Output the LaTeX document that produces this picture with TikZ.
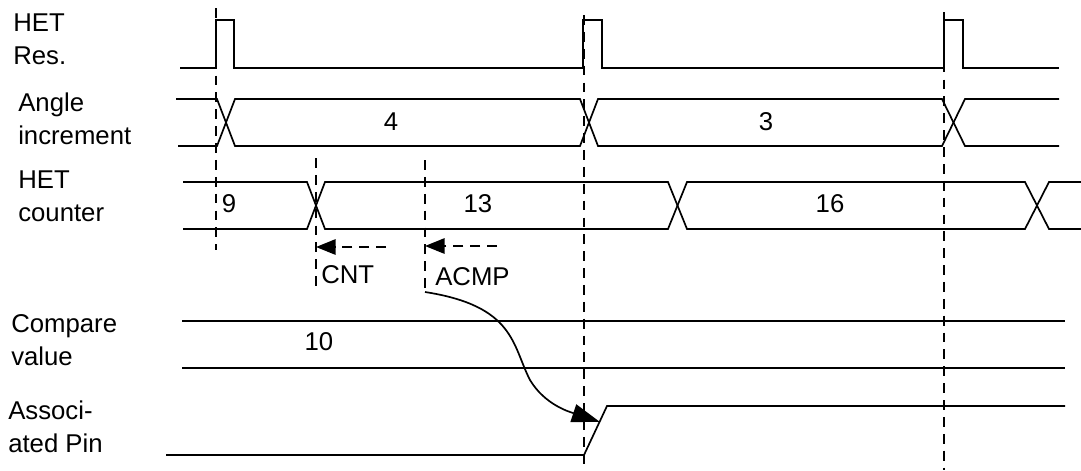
\documentclass[tikz,border=0pt]{standalone}
\usepackage{fontspec}
\setmainfont{Liberation Sans}
\usepackage{tikz}
\usetikzlibrary{arrows.meta, calc}
\tikzset{
  wave/.style  = {line width=1.2pt, black, line join=miter},
  guide/.style = {line width=1.2pt, black, dash pattern=on 7pt off 5pt},
  lbl/.style   = {anchor=base west, inner sep=0pt, align=left,
                  font=\fontsize{18.3}{22.8}\selectfont},
  val/.style   = {anchor=base, inner sep=0pt,
                  font=\fontsize{18.3}{22.8}\selectfont},
  arr/.style   = {-{Triangle[length=14pt, width=11pt]}, line width=1.2pt,
                  dash pattern=on 7pt off 5pt},
}

\begin{document}
\begin{tikzpicture}[x=0.025cm, y=-0.025cm]
    \useasboundingbox (0,0) rectangle (1081,470);

    \node[lbl] (resLbl) at (13,64)  {HET\\Res.};
    \node[lbl] (angLbl) at (18,144) {Angle\\increment};
    \node[lbl] (cntLbl) at (18,221) {HET\\counter};
    \node[lbl] (cmpLbl) at (11,365) {Compare\\value};
    \node[lbl] (pinLbl) at (8,452)  {Associ-\\ated Pin};

    \draw[wave] (180,68) -- (216,68) -- (216,20) -- (234,20) -- (234,68)
        -- (583,68) -- (583,20) -- (602,20) -- (602,68)
        -- (944,68) -- (944,20) -- (963,20) -- (963,68) -- (1059,68);

    \draw[wave] (176,99) -- (217,99) -- (235,146) -- (580,146) -- (598,99)
        -- (942,99) -- (965,146) -- (1059,146);
    \draw[wave] (178,146) -- (217,146) -- (235,99) -- (580,99) -- (598,146)
        -- (942,146) -- (965,99) -- (1059,99);

    \draw[wave] (183,182) -- (307,182) -- (325,229) -- (668,229) -- (687,182)
        -- (1025,182) -- (1049,229) -- (1081,229);
    \draw[wave] (183,229) -- (307,229) -- (325,182) -- (668,182) -- (687,229)
        -- (1025,229) -- (1049,182) -- (1081,182);

    \draw[wave] (182,321) -- (1065,321);
    \draw[wave] (182,368) -- (1065,368);

    \draw[wave] (166,455) -- (584,455) -- (607,406) -- (1065,406);

    \node[val] (v4)  at (391,130) {4};
    \node[val] (v3)  at (766,130) {3};
    \node[val] (v9)  at (229,212) {9};
    \node[val] (v13) at (478,212) {13};
    \node[val] (v16) at (830,212) {16};
    \node[val] (v10) at (319,350) {10};

    \draw[guide] (216,8)   -- (216,250);
    \draw[guide] (584,15)  -- (584,470);
    \draw[guide] (944,12)  -- (944,470);
    \draw[guide] (316,158) -- (316,290);
    \draw[guide] (425,160) -- (425,292);

    \coordinate (cntFrom) at (386,247);
    \coordinate (cntTo)   at (316,247);
    \coordinate (acmpFrom) at (497,246);
    \coordinate (acmpTo)   at (425,246);
    \coordinate (hitFrom) at (425,292);
    \coordinate (hitTo)   at (600,422);

    \draw[arr] (cntFrom) -- (cntTo);
    \draw[arr] (acmpFrom) -- (acmpTo);

    \node[lbl] (cntTag)  at (321,283) {CNT};
    \node[lbl] (acmpTag) at (435,285) {ACMP};

    \draw[-{Triangle[length=20pt, width=13pt]}, line width=1.2pt]
    (hitFrom) .. controls (515,306) and (512,345) .. (530,380)
    .. controls (545,405) and (570,412) .. (hitTo);

\end{tikzpicture}
\end{document}
